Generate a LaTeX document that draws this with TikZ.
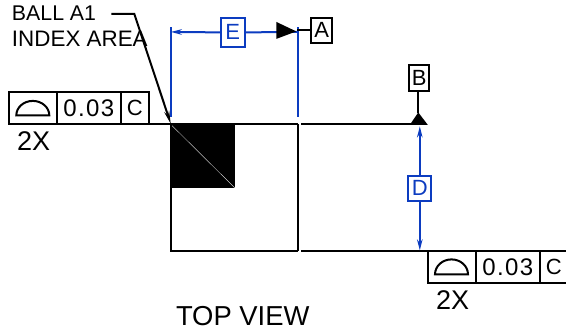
\documentclass[tikz,border=0pt]{standalone}
\usepackage{fontspec}
\setmainfont{Liberation Sans}
\newfontfamily\spaced[LetterSpace=6]{Liberation Sans}
\usetikzlibrary{arrows.meta}
\definecolor{dimblue}{HTML}{0C3CC0}
\tikzset{
  x=1pt,y=-1pt,
  ink/.style={line width=2pt,black},
  dimline/.style={line width=2pt,dimblue},
  dimarrow/.style={dimline,-{Stealth[length=11pt,width=5.5pt]}},
  framebox/.style={draw,line width=2pt,black,inner sep=0pt,outer sep=0pt,anchor=north west,align=center,text=black},
  dimbox/.style={draw,line width=2pt,dimblue,inner sep=0pt,outer sep=0pt,text=dimblue,font=\fontsize{22}{22}\selectfont},
  datumbox/.style={draw,line width=2pt,black,inner sep=0pt,outer sep=0pt,font=\fontsize{22}{22}\selectfont},
  label/.style={inner sep=0pt,anchor=base west,font=\fontsize{21.3}{21.3}\selectfont},
  big/.style={inner sep=0pt,anchor=base west,font=\fontsize{27}{27}\selectfont},
  tol/.style={font=\spaced\fontsize{24}{24}\selectfont},
  letterc/.style={font=\fontsize{22}{22}\selectfont},
  fill tri/.style={fill=black,draw=none},
}
\begin{document}
\begin{tikzpicture}
\useasboundingbox (0,0) rectangle (566,333);
\begin{scope}[shift={(-0.7,-0.6)}]
% outline and reference points
\coordinate (tl) at (171.5,124.5);
\coordinate (tr) at (298.5,124.5);
\coordinate (br) at (298.5,251.5);
\coordinate (bl) at (171.5,251.5);
\coordinate (rt0) at (302,124.5);
\coordinate (rb0) at (302,251.5);
\coordinate (rb1) at (567,251.5);
% black corner square
\fill[black] (171,124.5) rectangle (235.5,188.5);
\draw[white,line width=0.3pt] (171,124.5) -- (235.5,188.5);
\draw[ink] (tr) -- (br);
\draw[ink] (tl) -- (bl) -- (br);
% left frame
\node[framebox,minimum width=48pt,minimum height=32pt] (f1a) at (9.5,92.5) {};
\node[framebox,minimum width=64pt,minimum height=32pt,tol] (f1b) at (57.5,92.5) {0.03};
\node[framebox,minimum width=28pt,minimum height=32pt,letterc] (f1c) at (121.5,92.5) {C};
\draw[ink] (f1a.south west) -- (tr);
\draw[ink] (17,116) arc[start angle=180,end angle=360,x radius=16.5,y radius=14.5] -- cycle;
\node[big] (tx2a) at (17.5,151.5) {2X};
% right lower frame
\node[framebox,minimum width=48pt,minimum height=32pt] (f2a) at (428.5,251.5) {};
\node[framebox,minimum width=64pt,minimum height=32pt,tol] (f2b) at (476.5,251.5) {0.03};
\node[framebox,minimum width=28pt,minimum height=32pt,letterc] (f2c) at (540.5,251.5) {C};
\draw[ink] (rb0) -- (rb1);
\draw[ink] (435.7,275) arc[start angle=180,end angle=360,x radius=16.5,y radius=15] -- cycle;
\node[big] (tx2b) at (436.5,310.5) {2X};
% upper right line and datum B
\draw[ink] (rt0) -- (420,124.5);
\node[datumbox,minimum width=20pt,minimum height=26pt] (B) at (420,79) {B};
\coordinate (Bapex) at (419,114);
\draw[ink] (B.south -| Bapex) -- (Bapex);
\fill[fill tri] (419,113) -- (428.5,125.5) -- (410.5,125.5) -- cycle;
% D dimension
\node[dimbox,minimum width=23pt,minimum height=25pt] (D) at (420.5,189) {D};
\draw[dimarrow] (D.north) -- (420.5,127);
\draw[dimarrow] (D.south) -- (420.5,251);
% E dimension
\coordinate (eL) at (171.5,28);
\coordinate (eLb) at (171.5,118);
\coordinate (eR) at (298.5,28);
\coordinate (eRb) at (298.5,118);
\draw[dimline] (eL) -- (eLb);
\draw[dimline] (eR) -- (eRb);
\node[dimbox,minimum width=24.5pt,minimum height=29pt] (E) at (233.5,33) {E};
\coordinate (eLm) at (171.5,32.5);
\coordinate (eRm) at (298.5,32.5);
\draw[dimarrow] (E.west) -- (eLm);
\draw[dimline] (E.east) -- (eRm);
% datum A
\node[datumbox,minimum width=21pt,minimum height=25pt] (A) at (322.5,31) {A};
\draw[ink] (A.west) -- (298,31);
\fill[fill tri] (277,22.5) -- (297,32) -- (277,39.5) -- cycle;
% leader
\coordinate (ld0) at (112,14.5);
\coordinate (ld1) at (135,14.5);
\draw[ink,-{Stealth[length=13pt,width=5pt]}] (ld0) -- (ld1) -- (tl);
% texts
\node[label] (t1) at (12.5,21.5) {BALL A1};
\node[label,font=\fontsize{22.4}{22.4}\selectfont] (t2) at (12.5,47.5) {INDEX AREA};
\node[inner sep=0pt,anchor=base west,font=\fontsize{27.4}{27.4}\selectfont] (t3) at (176.5,326.5) {TOP VIEW};
\end{scope}
\end{tikzpicture}
\end{document}
